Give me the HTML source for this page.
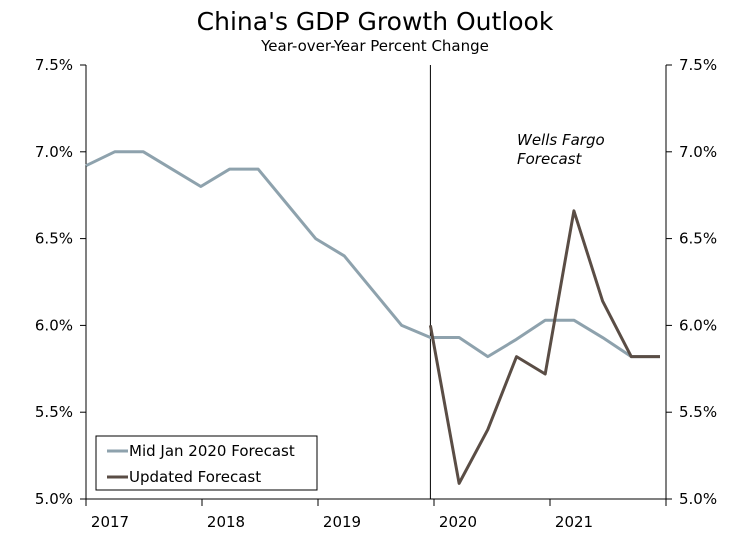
<!DOCTYPE html>
<html><head><meta charset="utf-8"><style>
body{margin:0;background:#fff;font-family:"DejaVu Sans","Liberation Sans",sans-serif;}
svg text{font-family:"DejaVu Sans","Liberation Sans",sans-serif;}
</style></head><body>
<svg id="c" width="749" height="530">
<text x="375" y="30" font-size="25" text-anchor="middle">China's GDP Growth Outlook</text>
<text x="375" y="51" font-size="15" text-anchor="middle">Year-over-Year Percent Change</text>
<text x="517" y="145" font-size="15" font-style="italic">Wells Fargo</text>
<text x="517" y="164" font-size="15" font-style="italic">Forecast</text>
<g id="axes"></g>
<g id="marks"></g>
<g>
<rect x="96" y="436" width="221" height="54" fill="#fff" stroke="#000" stroke-width="1"/>
<line x1="107" y1="451" x2="128" y2="451" stroke="#8ea2ad" stroke-width="3"/>
<text x="129" y="456" font-size="15">Mid Jan 2020 Forecast</text>
<line x1="107" y1="477" x2="128" y2="477" stroke="#5a4d45" stroke-width="3"/>
<text x="129" y="482" font-size="15">Updated Forecast</text>
</g>
</svg>
<script>
const yTicks=[5.0,5.5,6.0,6.5,7.0,7.5];
const years=["2017","2018","2019","2020","2021"];
const midJan=[6.92,7.0,7.0,6.9,6.8,6.9,6.9,6.7,6.5,6.4,6.2,6.0,5.93,5.93,5.82,5.92,6.03,6.03,5.93,5.82,5.82];
const updated=[6.0,5.09,5.4,5.82,5.72,6.66,6.14,5.82,5.82];
const updatedStart=12;
const L=86,R=666,T=65,B=499;
const y=v=>B-(v-5.0)/2.5*(B-T);
const x=i=>L+i*(R-6-L)/20;
const yearX=k=>L+k*(R-L)/5;
const NS="http://www.w3.org/2000/svg";
const ax=document.getElementById('axes'),mk=document.getElementById('marks');
function el(t,a,p){const e=document.createElementNS(NS,t);for(const k in a)e.setAttribute(k,a[k]);p.appendChild(e);return e;}
let e=el('line',{x1:L,y1:T,x2:L,y2:B,stroke:'#000'},ax);


e=el('line',{x1:R,y1:T,x2:R,y2:B,stroke:'#000'},ax);


e=el('line',{x1:L-6,y1:B,x2:R+6,y2:B,stroke:'#000'},ax);


e=el('line',{x1:x(updatedStart),y1:T,x2:x(updatedStart),y2:B,stroke:'#000'},ax);


yTicks.forEach(v=>{
 el('line',{x1:L-6,y1:y(v),x2:L,y2:y(v),stroke:'#000'},ax);
 el('line',{x1:R,y1:y(v),x2:R+6,y2:y(v),stroke:'#000'},ax);
 let t=el('text',{x:L-13,y:y(v)+5,'font-size':15,'text-anchor':'end'},ax);t.textContent=v.toFixed(1)+'%';
 
 
 t=el('text',{x:R+13,y:y(v)+5,'font-size':15},ax);t.textContent=v.toFixed(1)+'%';
 
 
});
for(let k=0;k<=5;k++)el('line',{x1:yearX(k),y1:B,x2:yearX(k),y2:B+7,stroke:'#000'},ax);
years.forEach((s,k)=>{let t=el('text',{x:yearX(k)+24,y:527,'font-size':15,'text-anchor':'middle'},ax);t.textContent=s;
 
 });
let p=el('polyline',{points:midJan.map((v,i)=>x(i)+','+y(v)).join(' '),fill:'none',stroke:'#8ea2ad','stroke-width':3,'stroke-linejoin':'round'},mk);


p=el('polyline',{points:updated.map((v,i)=>x(i+updatedStart)+','+y(v)).join(' '),fill:'none',stroke:'#5a4d45','stroke-width':3,'stroke-linejoin':'round'},mk);


</script>
</body></html>
